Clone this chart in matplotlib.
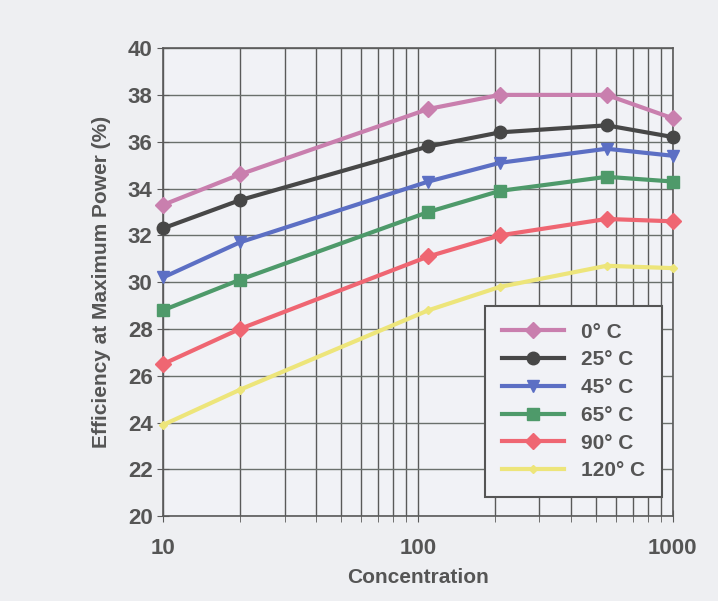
import matplotlib
matplotlib.use("Agg")
import matplotlib.pyplot as plt
from matplotlib.ticker import FixedLocator, LogLocator, NullFormatter

plt.rcParams["font.family"] = ["Liberation Sans", "DejaVu Sans"]
plt.rcParams["font.weight"] = "bold"

# 集光倍率
conc = [10, 20, 110, 210, 550, 1000]

labels = ["0° C", "25° C", "45° C", "65° C", "90° C", "120° C"]
eff_0 = [33.3, 34.6, 37.4, 38.0, 38.0, 37.0]
eff_25 = [32.3, 33.5, 35.8, 36.4, 36.7, 36.2]
eff_45 = [30.2, 31.7, 34.3, 35.1, 35.7, 35.4]
eff_65 = [28.8, 30.1, 33.0, 33.9, 34.5, 34.3]
eff_90 = [26.5, 28.0, 31.1, 32.0, 32.7, 32.6]
eff_120 = [23.9, 25.4, 28.8, 29.8, 30.7, 30.6]

series = [eff_0, eff_25, eff_45, eff_65, eff_90, eff_120]
colors = ["#c97fae", "#474747", "#5c6fc4", "#4e9a6a", "#ef6672", "#ede57a"]
markers = ["D", "o", "v", "s", "D", "D"]
msizes = [8, 9, 9, 8, 8, 4]

fig = plt.figure(figsize=(7.18, 6.01), dpi=100, facecolor="#eeeff2")
ax = fig.add_axes([0.227, 0.141, 0.710, 0.779])
ax.set_facecolor("#f1f2f6")

for y, lab, c, m, ms in zip(series, labels, colors, markers, msizes):
    ax.plot(conc, y, color=c, lw=3, marker=m, markersize=ms, label=lab,
            markeredgecolor=c, clip_on=False, zorder=3)

ax.set_xscale("log")
ax.set_xlim(10, 1000)
ax.set_ylim(20, 40)
ax.set_yticks(range(20, 41, 2))
ax.xaxis.set_major_locator(FixedLocator([10, 100, 1000]))
ax.xaxis.set_minor_locator(LogLocator(base=10, subs=range(2, 10)))
ax.xaxis.set_minor_formatter(NullFormatter())
ax.set_xticklabels(["10", "100", "1000"])

ax.grid(True, which="major", axis="x", color="#5a5a5a", lw=1.0)
ax.grid(True, which="minor", axis="x", color="#5a5a5a", lw=1.0)
ax.grid(True, which="major", axis="y", color="#6a706c", lw=1.0)
for s in ax.spines.values():
    s.set_color("#5a5a5a")
    s.set_linewidth(1.2)

ax.tick_params(axis="both", which="both", color="#5a5a5a", direction="inout",
               length=8, labelsize=16, labelcolor="#555555")
ax.tick_params(axis="x", pad=12)

ax.set_xlabel("Concentration", fontsize=15, color="#555555", fontweight="bold",
              labelpad=6)
ax.set_ylabel("Efficiency at Maximum Power (%)", fontsize=15, color="#555555",
              fontweight="bold", labelpad=12)

leg = ax.legend(loc="lower right", bbox_to_anchor=(0.978, 0.041), fontsize=15,
                frameon=True, fancybox=False, edgecolor="#555555",
                facecolor="#f1f2f6", framealpha=1, handlelength=3.0,
                labelspacing=0.42, borderpad=0.8, borderaxespad=0)
leg.get_frame().set_linewidth(1.5)
for t in leg.get_texts():
    t.set_color("#555555")

fig.savefig("out.png", dpi=100, facecolor=fig.get_facecolor())
